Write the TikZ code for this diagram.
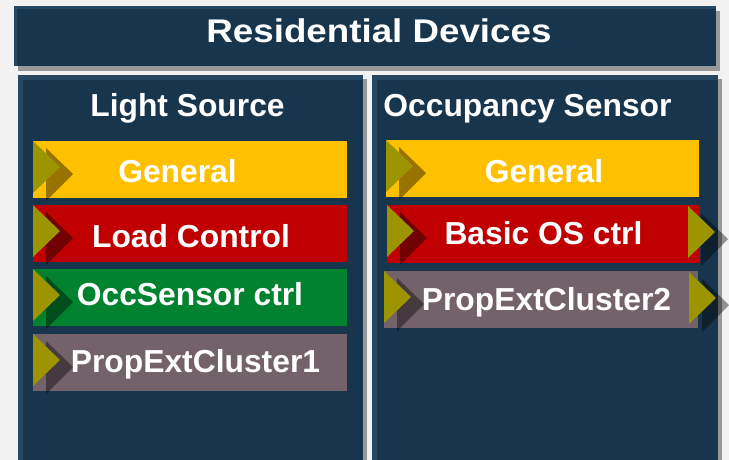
\documentclass[tikz,border=0pt]{standalone}
\usepackage{fontspec}
\setmainfont{Liberation Sans}
\usepackage{graphicx}
\usetikzlibrary{calc}
\definecolor{pagebg}{HTML}{F2F2F2}
\definecolor{navy}{HTML}{18354E}
\definecolor{navyedge}{HTML}{274862}
\definecolor{boxshadow}{HTML}{989898}
\definecolor{gold}{HTML}{FFC000}
\definecolor{brick}{HTML}{C00000}
\definecolor{leaf}{HTML}{00822F}
\definecolor{mauve}{HTML}{74626A}
\definecolor{olive}{HTML}{9C9500}
\tikzset{
  panelbox/.style={fill=navyedge, inner sep=0pt, anchor=north west,
    path picture={\fill[navy] ([xshift=#1,yshift=-#1]path picture bounding box.north west)
      rectangle (path picture bounding box.south east);}},
  panelbox/.default=5pt,
  bar/.style={fill=#1, inner sep=0pt, anchor=north west, minimum width=314pt, minimum height=57pt},
  heading/.style={text=white, anchor=base, inner sep=0pt,
    font=\bfseries\fontsize{31.8}{38}\selectfont},
  chip/.style={fill=olive},
  chipshadow/.style={fill=black, fill opacity=0.4},
}
\newcommand{\chevron}[1]{%
  \fill[chipshadow] ($(#1)+(13,7)$) -- ++(27,26) -- ++(-27,27) -- cycle;
  \fill[chip] (#1) -- ++(27,26) -- ++(-27,26) -- cycle;}
\begin{document}
\begin{tikzpicture}[x=1pt,y=-1pt]
\useasboundingbox (0,0) rectangle (729,460);
\fill[pagebg] (0,0) rectangle (729,460);

% title banner
\fill[boxshadow] (18,11) rectangle (720,71);
\node[panelbox=3pt, minimum width=702pt, minimum height=60pt] (banner) at (14,6) {};
\node[heading, font=\bfseries\fontsize{32.8}{38}\selectfont] (bannertext) at (379,43)
  {\scalebox{1.12}[1]{Residential Devices}};

% two device panels
\fill[boxshadow] (22,79) rectangle (367,460);
\fill[boxshadow] (376,79) rectangle (722,460);
\node[panelbox, minimum width=345pt, minimum height=385pt] (light) at (18,75) {};
\node[panelbox, minimum width=346pt, minimum height=385pt] (occ) at (372,75) {};
\node[heading] (lighthead) at (187.5,117) {Light Source};
\node[heading] (occhead) at (527.5,117) {Occupancy Sensor};

% light source clusters
\node[bar=gold] (lgen) at (33,141) {};
\node[bar=brick] (lload) at (33,205) {};
\node[bar=leaf] (locc) at (33,269) {};
\node[bar=mauve] (lprop) at (33,334) {};
\chevron{lgen.north west}
\chevron{lload.north west}
\chevron{locc.north west}
\chevron{lprop.north west}
\node[heading] (lgentext) at (177.5,182) {General};
\node[heading] (lloadtext) at (191,247) {Load Control};
\node[heading] (locctext) at (190,305) {OccSensor ctrl};
\node[heading] (lproptext) at (195.5,372) {PropExtCluster1};

% occupancy sensor clusters
\node[bar=gold, minimum width=313pt] (ogen) at (386,140) {};
\node[bar=brick, minimum width=313pt, minimum height=58pt] (obasic) at (387,205) {};
\node[bar=mauve] (oprop) at (384,271) {};
\chevron{ogen.north west}
\chevron{obasic.north west}
\chevron{oprop.north west}
\coordinate (obasicout) at (688,206);
\coordinate (opropout) at (689,272);
\chevron{obasicout}
\chevron{opropout}
\node[heading] (ogentext) at (544,182) {General};
\node[heading] (obasictext) at (543.5,244) {Basic OS ctrl};
\node[heading] (oproptext) at (546.5,310) {PropExtCluster2};
\end{tikzpicture}
\end{document}
